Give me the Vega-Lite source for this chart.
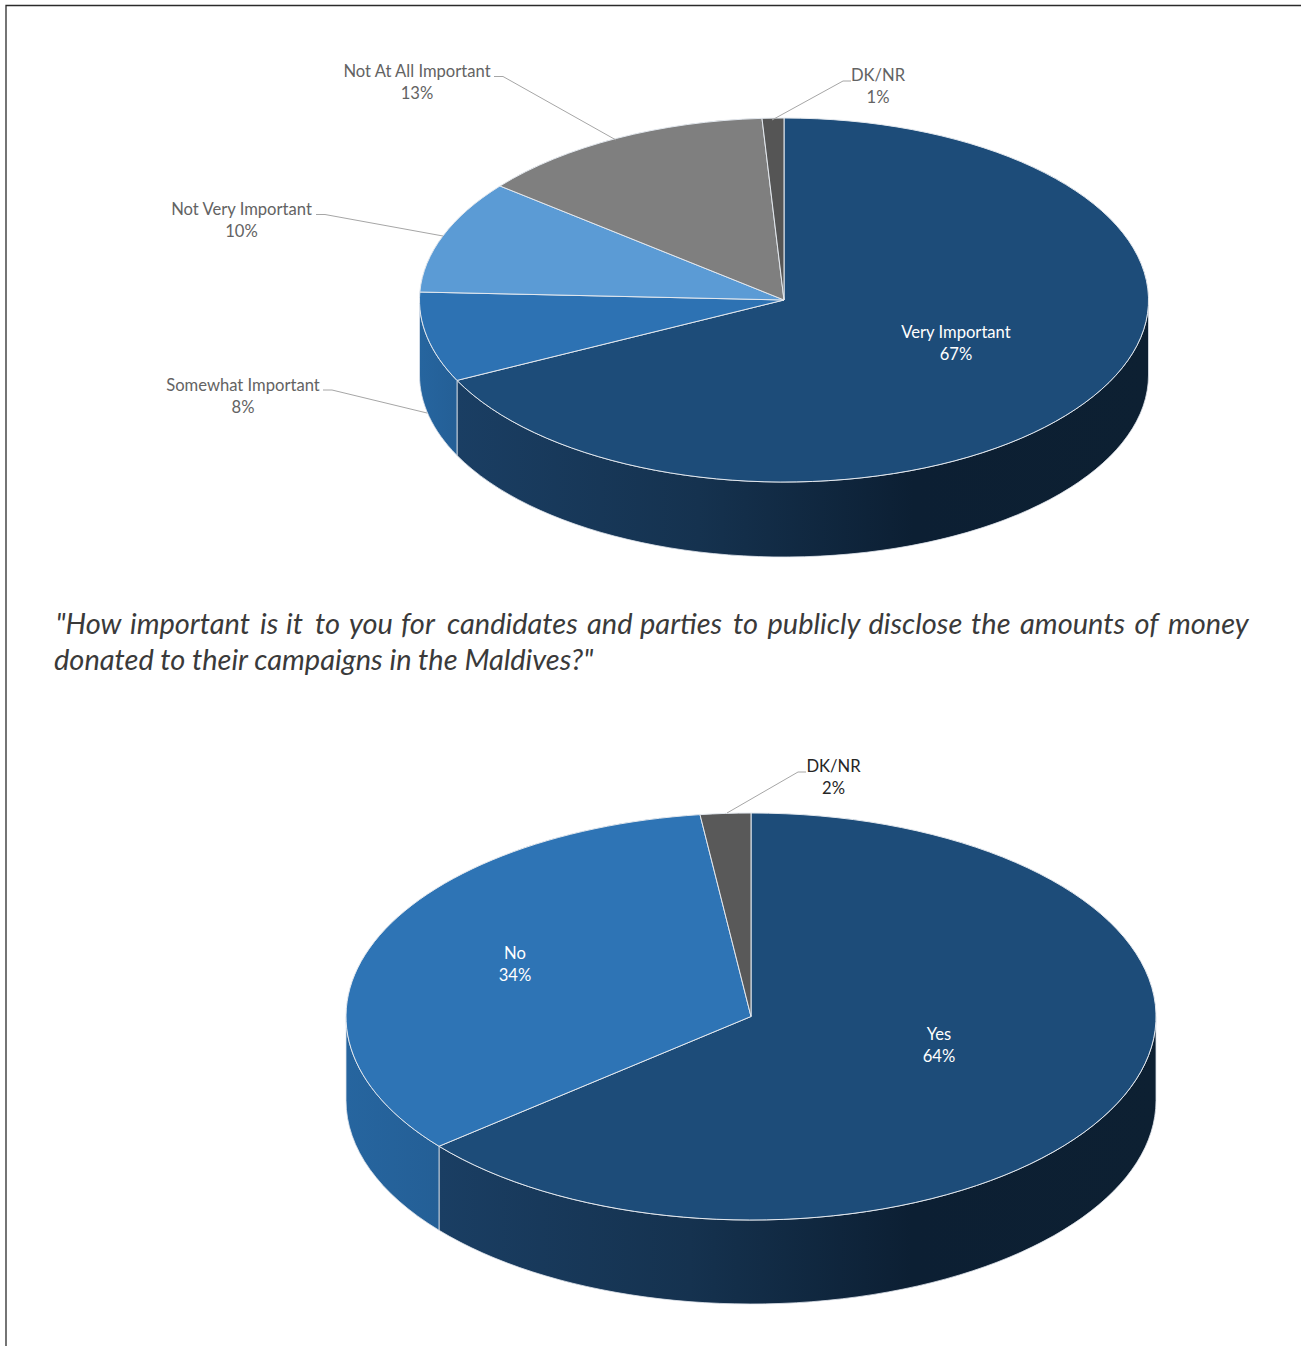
{"$schema":"https://vega.github.io/schema/vega-lite/v6.json","width":1301,"height":1346,"padding":0,"autosize":{"type":"none"},"background":"#ffffff","config":{"view":{"stroke":null}},
"datasets":{
"parts":[
{"chart":"Importance","category":"Very Important","share":67,"part":"A top","h":784,"v":300},
{"chart":"Importance","category":"Somewhat Important","share":8,"part":"B top","h":784,"v":300},
{"chart":"Importance","category":"Not Very Important","share":10,"part":"C top","h":784,"v":300},
{"chart":"Importance","category":"Not At All Important","share":13,"part":"D top","h":784,"v":300},
{"chart":"Importance","category":"DK/NR","share":1,"part":"E top","h":784,"v":300},
{"chart":"Disclosure","category":"Yes","share":64,"part":"F top","h":751,"v":1016.5},
{"chart":"Disclosure","category":"No","share":34,"part":"G top","h":751,"v":1016.5},
{"chart":"Disclosure","category":"DK/NR","share":2,"part":"H top","h":751,"v":1016.5},
{"chart":"Importance","category":"Very Important","share":67,"part":"A wall","h":784,"v":300},
{"chart":"Disclosure","category":"Yes","share":64,"part":"F wall","h":751,"v":1016.5},
{"chart":"Importance","category":"Somewhat Important","share":8,"part":"B wall","h":784,"v":300},
{"chart":"Disclosure","category":"No","share":34,"part":"G wall","h":751,"v":1016.5}
],
"labels":[
{"label":"Not At All Important\n13%","tone":"outer","h":417,"v":72},
{"label":"DK/NR\n1%","tone":"outer","h":878,"v":76},
{"label":"Not Very Important\n10%","tone":"outer","h":241.5,"v":210},
{"label":"Somewhat Important\n8%","tone":"outer","h":243,"v":386},
{"label":"Very Important\n67%","tone":"inner","h":956,"v":333},
{"label":"DK/NR\n2%","tone":"dark","h":833.5,"v":767},
{"label":"No\n34%","tone":"inner","h":515,"v":954},
{"label":"Yes\n64%","tone":"inner","h":939,"v":1035}
],
"leaders":[
{"id":"a","seq":1,"h":494,"v":76.5},{"id":"a","seq":2,"h":503,"v":76.5},{"id":"a","seq":3,"h":616,"v":140},
{"id":"b","seq":1,"h":851,"v":81},{"id":"b","seq":2,"h":843,"v":81},{"id":"b","seq":3,"h":772,"v":120},
{"id":"c","seq":1,"h":316,"v":214.5},{"id":"c","seq":2,"h":325,"v":214.5},{"id":"c","seq":3,"h":443,"v":236},
{"id":"d","seq":1,"h":323,"v":390},{"id":"d","seq":2,"h":332,"v":390},{"id":"d","seq":3,"h":427,"v":413},
{"id":"e","seq":1,"h":806,"v":772},{"id":"e","seq":2,"h":798,"v":772},{"id":"e","seq":3,"h":727,"v":813}
],
"frame":[{"seq":1,"h":6,"v":1346},{"seq":2,"h":6,"v":5.5},{"seq":3,"h":1301,"v":5.5}],
"question":[
{"t":"\"How","h":55.5,"v":634},{"t":"important","h":130,"v":634},{"t":"is","h":260,"v":634},{"t":"it","h":286,"v":634},{"t":"to","h":315,"v":634},{"t":"you","h":349,"v":634},{"t":"for","h":401,"v":634},{"t":"candidates","h":447,"v":634},{"t":"and","h":587,"v":634},{"t":"parties","h":640,"v":634},{"t":"to","h":733,"v":634},{"t":"publicly","h":767.5,"v":634},{"t":"disclose","h":868.5,"v":634},{"t":"the","h":971,"v":634},{"t":"amounts","h":1020,"v":634},{"t":"of","h":1134.5,"v":634},{"t":"money","h":1168,"v":634},
{"t":"donated to their campaigns in the Maldives?\"","h":54,"v":670}
]},
"encoding":{
"x":{"field":"h","type":"quantitative","axis":null,"scale":{"domain":[0,1301],"nice":false,"zero":false}},
"y":{"field":"v","type":"quantitative","axis":null,"scale":{"domain":[0,1346],"nice":false,"zero":false,"reverse":false,"range":[0,1346]}}
},
"layer":[
{"data":{"name":"parts"},"transform":[{"filter":"datum.part=='A wall'||datum.part=='F wall'"}],
"mark":{"type":"point","filled":true,"opacity":1,"size":4,"stroke":"#dfe5ec","strokeWidth":0.8,"fill":{"gradient":"linear","x1":0,"y1":0,"x2":1,"y2":0,"stops":[{"offset":0,"color":"#1a3e63"},{"offset":0.35,"color":"#15324f"},{"offset":0.66,"color":"#0c1f33"},{"offset":1,"color":"#0d2032"}]}},
"encoding":{"shape":{"field":"part","type":"nominal","legend":null,"scale":{"domain":["A wall","F wall"],"range":["M364.5,0A364.5,182,0,0,1,-327,80.4L-327,155.4A364.5,182,0,0,0,364.5,75Z","M405,0A405,203.5,0,0,1,-312,129.75L-312,213.75A405,203.5,0,0,0,405,84Z"]}}}},
{"data":{"name":"parts"},"transform":[{"filter":"datum.part=='B wall'||datum.part=='G wall'"}],
"mark":{"type":"point","filled":true,"opacity":1,"size":4,"stroke":"#dfe5ec","strokeWidth":0.8,"fill":{"gradient":"linear","x1":0,"y1":0,"x2":1,"y2":0,"stops":[{"offset":0,"color":"#26659f"},{"offset":1,"color":"#245f96"}]}},
"encoding":{"shape":{"field":"part","type":"nominal","legend":null,"scale":{"domain":["B wall","G wall"],"range":["M-327,80.4A364.5,182,0,0,1,-364.5,0L-364.5,75A364.5,182,0,0,0,-327,155.4Z","M-312,129.75A405,203.5,0,0,1,-405,0L-405,84A405,203.5,0,0,0,-312,213.75Z"]}}}},
{"data":{"name":"parts"},"transform":[{"filter":"indexof(datum.part,'top')>0"}],
"mark":{"type":"point","filled":true,"opacity":1,"size":4,"stroke":"#e3e8ee","strokeWidth":1},
"encoding":{"fill":{"field":"part","type":"nominal","legend":null,"scale":{"domain":["A top","B top","C top","D top","E top","F top","G top","H top"],"range":["#1d4c79","#2d72b3","#5b9bd5","#7f7f7f","#555555","#1d4c79","#2e74b5","#595959"]}},
"shape":{"field":"part","type":"nominal","legend":null,"scale":{"domain":["A top","B top","C top","D top","E top","F top","G top","H top"],"range":["M0,0L0,-182A364.5,182,0,1,1,-327,80.4Z","M0,0L-327,80.4A364.5,182,0,0,1,-364.15,-8Z","M0,0L-364.15,-8A364.5,182,0,0,1,-284,-114Z","M0,0L-284,-114A364.5,182,0,0,1,-22,-181.67Z","M0,0L-22,-181.67A364.5,182,0,0,1,0,-182Z","M0,0L0,-203.5A405,203.5,0,1,1,-312,129.75Z","M0,0L-312,129.75A405,203.5,0,0,1,-51,-201.88Z","M0,0L-51,-201.88A405,203.5,0,0,1,0,-203.5Z"]}}}},
{"data":{"name":"leaders"},"mark":{"type":"line","stroke":"#a6a6a6","strokeWidth":1},"encoding":{"detail":{"field":"id"},"order":{"field":"seq","type":"ordinal"}}},
{"data":{"name":"frame"},"mark":{"type":"line","stroke":"#2b2b2b","strokeWidth":1.3},"encoding":{"order":{"field":"seq","type":"ordinal"}}},
{"data":{"name":"labels"},"mark":{"type":"text","font":"Lato","fontSize":16.6,"lineBreak":"\n","lineHeight":22,"align":"center","baseline":"middle"},
"encoding":{"text":{"field":"label"},"fill":{"field":"tone","type":"nominal","legend":null,"scale":{"domain":["outer","inner","dark"],"range":["#636363","#ffffff","#262626"]}}}},
{"data":{"name":"question"},"mark":{"type":"text","font":"Lato","fontSize":29,"fontStyle":"italic","fill":"#3a3a3a","align":"left","baseline":"alphabetic"},"encoding":{"text":{"field":"t"}}}
],
"resolve":{"scale":{"shape":"independent","fill":"independent"}}}
